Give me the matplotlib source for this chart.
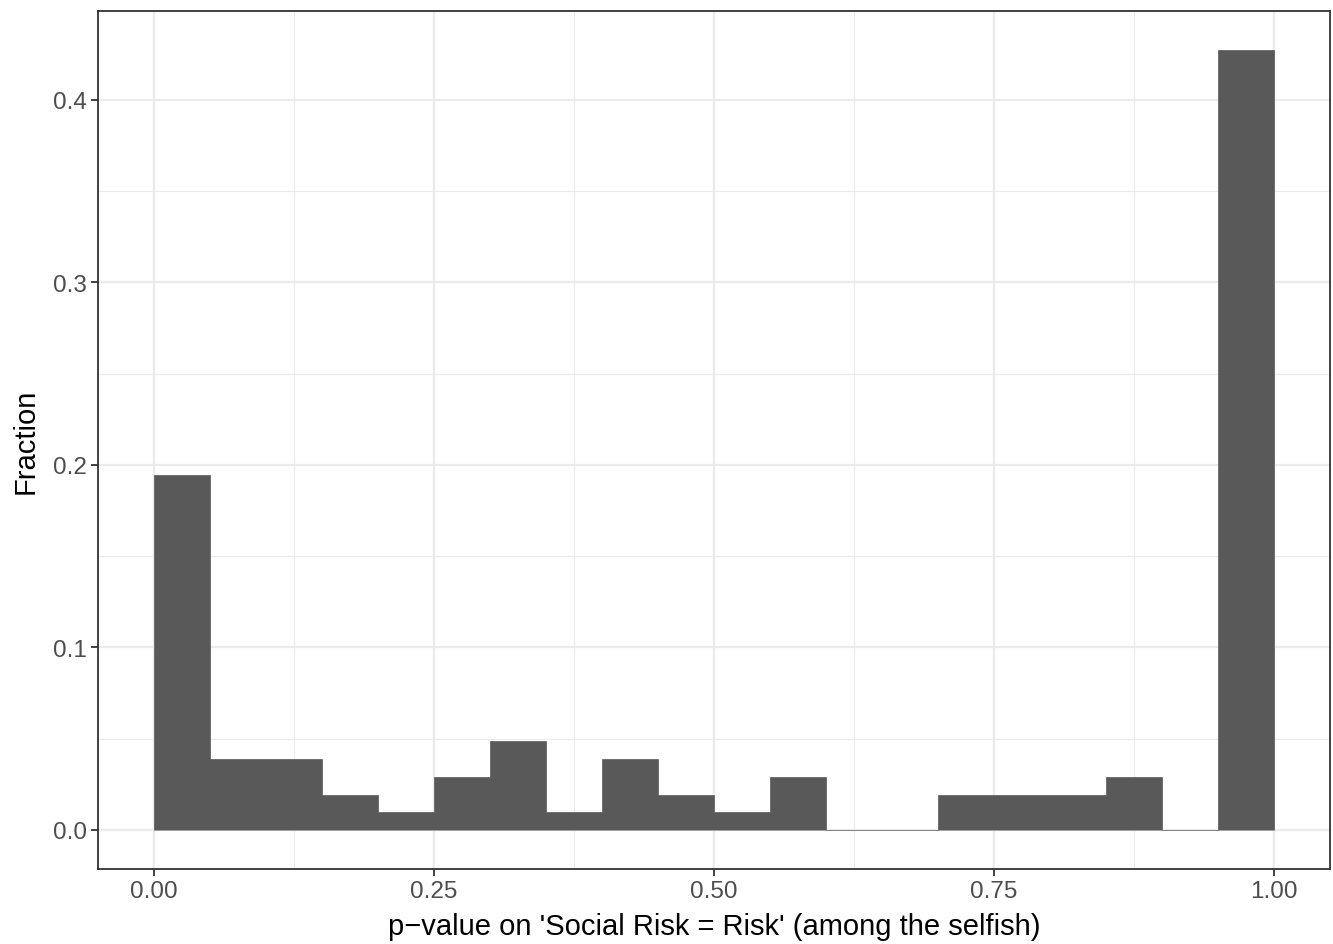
import matplotlib
matplotlib.use("Agg")
import matplotlib.pyplot as plt

plt.rcParams['font.family'] = ['Liberation Sans', 'DejaVu Sans']

# Histogram bins of p-values (width 0.05) and counts per bin
bin_edges = [round(0.05 * i, 2) for i in range(21)]
counts = [20, 4, 4, 2, 1, 3, 5, 1, 4, 2, 1, 3, 0, 0, 2, 2, 2, 3, 0, 44]
total = sum(counts)
fractions = [c / total for c in counts]

x_ticks = [0.0, 0.25, 0.5, 0.75, 1.0]
x_tick_labels = ["0.00", "0.25", "0.50", "0.75", "1.00"]
y_ticks = [0.0, 0.1, 0.2, 0.3, 0.4]
y_tick_labels = ["0.0", "0.1", "0.2", "0.3", "0.4"]

fig = plt.figure(figsize=(13.33, 9.45), dpi=100)
ax = fig.add_axes([0.0735, 0.0794, 0.9242, 0.9079])

# one filled outline for the whole histogram (empty bins show as a line at 0)
ax.stairs(fractions, bin_edges, fill=True, facecolor='#595959',
          edgecolor='#595959', linewidth=0.5, zorder=3)

ymax = max(fractions)
ax.set_xlim(-0.05, 1.05)
ax.set_ylim(-0.05 * ymax, ymax * 1.05)

ax.set_xticks(x_ticks)
ax.set_xticklabels(x_tick_labels)
ax.set_yticks(y_ticks)
ax.set_yticklabels(y_tick_labels)
ax.set_xticks([0.125, 0.375, 0.625, 0.875], minor=True)
ax.set_yticks([0.05, 0.15, 0.25, 0.35], minor=True)

ax.grid(which='major', color='#EBEBEB', linewidth=1.6, zorder=0)
ax.grid(which='minor', color='#EBEBEB', linewidth=0.8, zorder=0)
ax.set_axisbelow(True)

for s in ax.spines.values():
    s.set_color('#333333')
    s.set_linewidth(1.3)

ax.tick_params(which='major', length=5, width=1.3, color='#333333',
               labelcolor='#4D4D4D', labelsize=17.5, pad=3)
ax.tick_params(which='minor', length=0)

ax.set_xlabel("p\u2212value on 'Social Risk = Risk' (among the selfish)",
              fontsize=21, color='black', labelpad=7)
ax.set_ylabel("Fraction", fontsize=21, color='black', labelpad=9.5)

fig.savefig("out.png", dpi=100, facecolor='white')
